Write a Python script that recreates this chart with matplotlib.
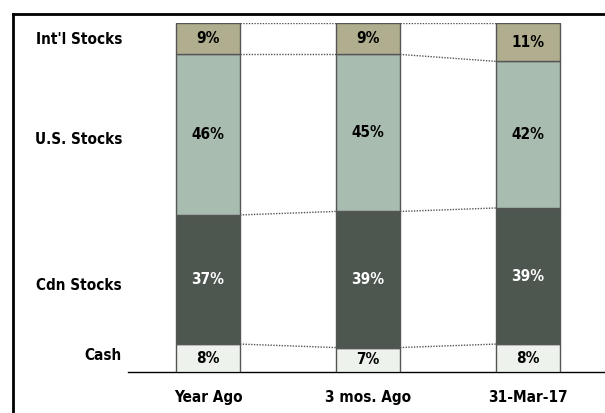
import matplotlib
matplotlib.use("Agg")
import matplotlib.pyplot as plt
from matplotlib.lines import Line2D
import numpy as np

categories = ["Year Ago", "3 mos. Ago", "31-Mar-17"]
series_names = ["Cash", "Cdn Stocks", "U.S. Stocks", "Int'l Stocks"]
cash = [8, 7, 8]
cdn = [37, 39, 39]
us = [46, 45, 42]
intl = [9, 9, 11]

colors = ["#EEF2EC", "#4D574F", "#A9BCB0", "#B0AE8E"]
text_colors = ["black", "white", "black", "black"]
label_offsets_px = [3, -6, -5, -1]

plt.rcParams['font.family'] = ['DejaVu Sans']
plt.rcParams['font.stretch'] = 'condensed'
FS = 11

W, H = 605, 413
fig = plt.figure(figsize=(W/100, H/100), dpi=100)
ax = fig.add_axes([128/W, (H-372)/H, (608-128)/W, (372-23)/H])

data = [cash, cdn, us, intl]
x = np.arange(len(categories))
bw = 0.4
bottom = np.zeros(len(categories))
for vals, col, tc in zip(data, colors, text_colors):
    v = np.array(vals, dtype=float)
    ax.bar(x, v, bw, bottom=bottom, color=col, edgecolor="#555555", linewidth=1, zorder=3)
    for xi, b, vi in zip(x, bottom, v):
        ax.text(xi, b + vi/2, f"{int(vi)}%", ha="center", va="center",
                fontsize=FS, fontweight="bold", color=tc, zorder=4)
    bottom = bottom + v

# connector lines
cum = np.cumsum(np.array(data, dtype=float), axis=0)
for level in cum:
    for i in range(len(categories)-1):
        ax.plot([x[i]+bw/2, x[i+1]-bw/2], [level[i], level[i+1]],
                linestyle=(0, (1, 1)), color="#555555", linewidth=1, zorder=2)

# series labels at left aligned to first bar segments
first_bottom = 0
for name, vals, off in zip(series_names, data, label_offsets_px):
    ax.annotate(name, (-0.5, first_bottom + vals[0]/2), xytext=(-6, off),
                textcoords="offset pixels", ha="right", va="center",
                fontsize=FS, fontweight="bold", color="black", annotation_clip=False)
    first_bottom += vals[0]

ax.set_xlim(-0.5, 2.5)
ax.set_ylim(0, 100)
ax.set_xticks(x)
ax.set_xticklabels(categories, fontsize=FS, fontweight="bold")
ax.tick_params(axis="x", length=0, pad=13)
ax.set_yticks([])
for s in ["top", "right", "left"]:
    ax.spines[s].set_visible(False)
ax.spines["bottom"].set_color("black")
ax.spines["bottom"].set_linewidth(1)

# frame
fig.add_artist(Line2D([13/W, 1.0], [(H-14)/H, (H-14)/H], color="black", linewidth=2))
fig.add_artist(Line2D([13/W, 13/W], [0, (H-14)/H], color="black", linewidth=2))

fig.savefig("out.png", dpi=100)
